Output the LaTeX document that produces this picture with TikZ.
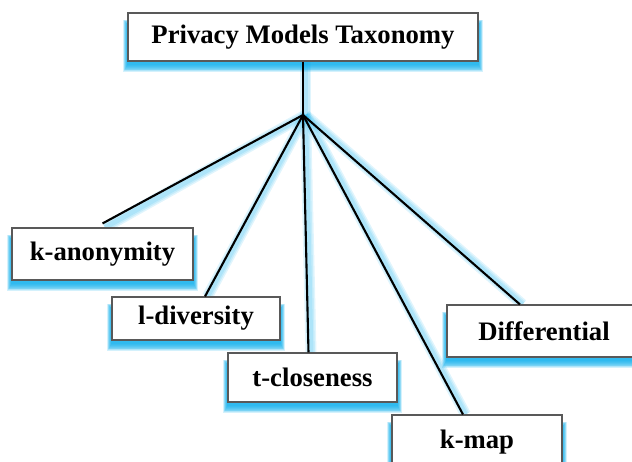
\documentclass[tikz,border=0pt]{standalone}
\usepackage{fontspec}
\setmainfont{Liberation Serif}
\usetikzlibrary{backgrounds}
\definecolor{glow}{RGB}{0,170,235}
\tikzset{
  box/.style={draw=black!65, line width=1.1pt, fill=white, font=\fontsize{26.7}{30}\selectfont\bfseries, inner sep=0pt},
  conn/.style={line width=2.1pt, black},
  connglow/.style={line width=#1, glow, opacity=0.12},
}
\begin{document}
\begin{tikzpicture}[x=1pt,y=-1pt]
\useasboundingbox (0,0) rectangle (632,461);
\clip (0,0) rectangle (632,461);
\node[box, minimum width=350pt, minimum height=48pt] (top) at (303,37) {Privacy Models Taxonomy};
\node[box, minimum width=181pt, minimum height=52pt] (ka) at (102.5,254) {k-anonymity};
\node[box, minimum width=168pt, minimum height=43pt] (ld) at (196,318.5) {l-diversity};
\node[box, minimum width=169pt, minimum height=49pt] (tc) at (312.5,377.5) {t-closeness};
\node[box, minimum width=170pt, minimum height=54pt] (km) at (477,442) {k-map};
\node[box, minimum width=194pt, minimum height=52pt] (df) at (544,331) {Differential};
\coordinate (hub) at (303,115);
\begin{scope}[on background layer]
  \foreach \n in {top,ka,ld,tc,km,df}{
    \foreach \r in {0,1,...,8}{
      \fill[glow, opacity=0.17] ([xshift=-0.5*\r pt, yshift=-12pt+0.6*\r pt]\n.north west) rectangle ([xshift=0.5*\r pt, yshift=-3.5pt-0.9*\r pt]\n.south east);
    }
  }
  \foreach \w in {11pt,8pt,5pt}{
    \draw[connglow=\w, transform canvas={xshift=2.5pt}] (top.south) -- (hub);
    \draw[connglow=\w, transform canvas={xshift=2.5pt}] (hub) -- (ka.north);
    \draw[connglow=\w, transform canvas={xshift=2.5pt}] (hub) -- ([xshift=9pt]ld.north);
    \draw[connglow=\w, transform canvas={xshift=2.5pt}] (hub) -- ([xshift=-4pt]tc.north);
    \draw[connglow=\w, transform canvas={xshift=2.5pt}] (hub) -- ([xshift=-14pt]km.north);
    \draw[connglow=\w, transform canvas={xshift=2.5pt}] (hub) -- ([xshift=-24pt]df.north);
  }
\end{scope}
\draw[conn] (top.south) -- (hub);
\draw[conn] (hub) -- ([yshift=4pt]ka.north);
\draw[conn] (hub) -- ([xshift=9pt]ld.north);
\draw[conn] (hub) -- ([xshift=-4pt]tc.north);
\draw[conn] (hub) -- ([xshift=-14pt]km.north);
\draw[conn] (hub) -- ([xshift=-24pt]df.north);
\end{tikzpicture}
\end{document}
